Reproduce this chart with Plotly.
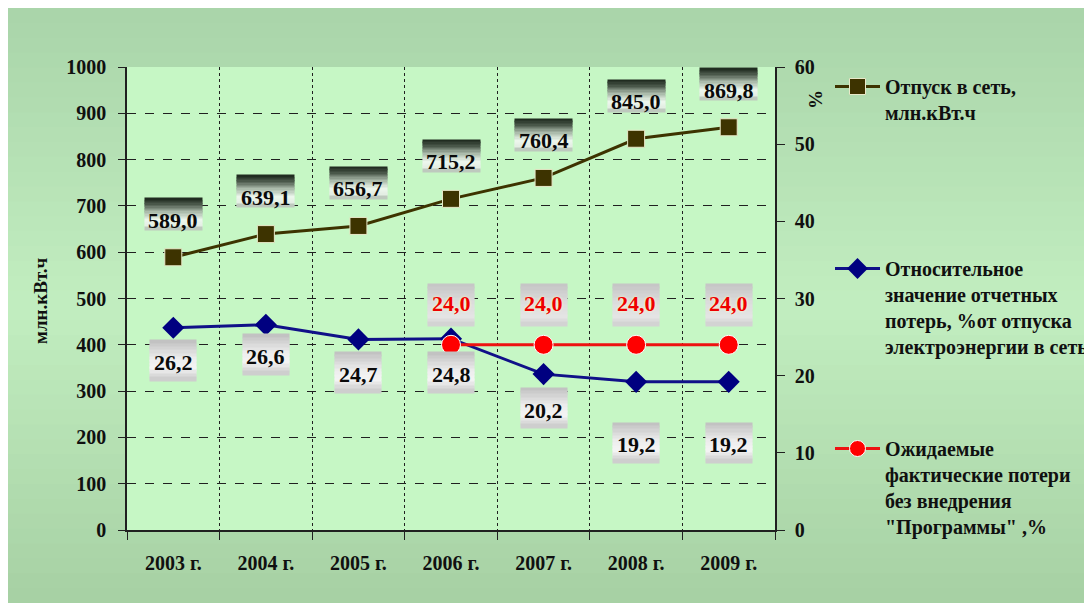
import plotly.graph_objects as go

# ---------------- data ----------------
years = ["2003 г.", "2004 г.", "2005 г.", "2006 г.", "2007 г.", "2008 г.", "2009 г."]
otpusk = [589.0, 639.1, 656.7, 715.2, 760.4, 845.0, 869.8]          # млн.кВт.ч (left axis)
rel_losses = [26.2, 26.6, 24.7, 24.8, 20.2, 19.2, 19.2]              # % (right axis)
expected_losses = [None, None, None, 24.0, 24.0, 24.0, 24.0]         # % (right axis)

name1 = "Отпуск в сеть,<br>млн.кВт.ч"
name2 = "Относительное<br>значение отчетных<br>потерь, %от отпуска<br>электроэнергии в сеть"
name3 = "Ожидаемые<br>фактические потери<br>без внедрения<br>\"Программы\" ,%"

# ---------------- layout geometry (page has an 8px body margin) ----------------
OFF = 8
W, H = 1092 - OFF, 603 - OFF
L, T = 127 - OFF, 67 - OFF
R, B = W - (775 - OFF), H - (530 - OFF)
PW, PH = W - L - R, H - T - B

def px_x(px):
    return (px - OFF - L) / PW

def px_y(py):
    return (H - B - (py - OFF)) / PH

def cx(px):   # container fraction
    return (px - OFF) / W

def cy(py):
    return 1 - (py - OFF) / H

FONT = "Liberation Serif"

fig = go.Figure()

fig.add_trace(go.Scatter(
    x=years, y=otpusk, name=name1, mode="lines+markers",
    line=dict(color="#3d3300", width=3),
    marker=dict(symbol="square", size=17, color="#3d3300", line=dict(color="#e8e8c8", width=1)),
    legend="legend", yaxis="y"))

fig.add_trace(go.Scatter(
    x=years, y=rel_losses, name=name2, mode="lines+markers",
    line=dict(color="#101088", width=3),
    marker=dict(symbol="diamond", size=17, color="#000080"),
    legend="legend2", yaxis="y2"))

fig.add_trace(go.Scatter(
    x=years, y=expected_losses, name=name3, mode="lines+markers",
    line=dict(color="#ee1111", width=3),
    marker=dict(symbol="circle", size=19, color="#ff0000", line=dict(color="#ffffff", width=1)),
    legend="legend3", yaxis="y2"))

def fmt(v):
    return f"{v:.1f}".replace(".", ",")

def lerp(c1, c2, t):
    return tuple(round(a + (b - a) * t) for a, b in zip(c1, c2))

def grad(stops, t):
    for (p0, c0), (p1, c1) in zip(stops[:-1], stops[1:]):
        if p0 <= t <= p1:
            return lerp(c0, c1, (t - p0) / (p1 - p0) if p1 > p0 else 0)
    return stops[-1][1]

ann = []

def gradient_box(x, y, yref, center_shift, h, w, stops, n=12):
    top = center_shift + h / 2
    bh = h / n
    for i in range(n):
        c = grad(stops, (i + 0.5) / n)
        ann.append(dict(x=x, y=y, xref="x", yref=yref, text=" ", showarrow=False,
                        yshift=top - bh * (i + 0.5), width=w, height=bh + 0.6, borderpad=0,
                        bgcolor="rgb(%d,%d,%d)" % c, font=dict(size=1)))

dark_stops = [(0, (22, 34, 22)), (0.2, (70, 84, 70)), (0.45, (170, 186, 170)),
              (0.7, (236, 246, 236)), (0.92, (226, 236, 226)), (1, (150, 162, 150))]
grey_stops = [(0, (190, 190, 190)), (0.45, (236, 236, 236)), (0.7, (244, 244, 244)),
              (1, (200, 200, 200))]
red_stops = [(0, (196, 196, 196)), (0.5, (222, 222, 222)), (0.8, (228, 228, 228)),
             (1, (206, 206, 206))]

# dark-gradient label boxes for series 1 (above points)
for x, v in zip(years, otpusk):
    gradient_box(x, v, "y", 43, 32, 57, dark_stops)
    ann.append(dict(x=x, y=v, xref="x", yref="y", text=f"<b>{fmt(v)}</b>", showarrow=False,
                    yshift=37, font=dict(family=FONT, size=22, color="#0a0a0a")))

# grey label boxes for series 2 (below points)
blue_shift = [-35, -32, -35, -36, -36, -63, -63]
for x, v, s in zip(years, rel_losses, blue_shift):
    gradient_box(x, v, "y2", s + 2, 40, 46, grey_stops)
    ann.append(dict(x=x, y=v, xref="x", yref="y2", text=f"<b>{fmt(v)}</b>", showarrow=False,
                    yshift=s, font=dict(family=FONT, size=22, color="#0a0a0a")))

# red labels for series 3 (above points)
for x, v in zip(years, expected_losses):
    if v is None:
        continue
    gradient_box(x, v, "y2", 40, 42, 46, red_stops)
    ann.append(dict(x=x, y=v, xref="x", yref="y2", text=f"<b>{fmt(v)}</b>", showarrow=False,
                    yshift=41, font=dict(family=FONT, size=22, color="#ee0000",
                                         shadow="0px 0px 3px #ffffc0")))

# axis titles
ann.append(dict(x=px_x(40), y=px_y(300), xref="paper", yref="paper", text="<b>млн.кВт.ч</b>",
                showarrow=False, textangle=-90, xanchor="center", yanchor="middle",
                font=dict(family=FONT, size=19, color="#101010")))
ann.append(dict(x=px_x(816), y=px_y(100), xref="paper", yref="paper", text="<b>%</b>",
                showarrow=False, textangle=-90, xanchor="center", yanchor="middle",
                font=dict(family=FONT, size=19, color="#101010")))

# background gradient bands
shapes = []
top_c, mid_c, bot_c = (169, 212, 169), (194, 238, 192), (166, 208, 163)
n = 40
for i in range(n):
    p0 = OFF + H * i / n
    p1 = OFF + H * (i + 1) / n + 1
    t = (i + 0.5) / n
    c = lerp(top_c, mid_c, t / 0.5) if t < 0.5 else lerp(mid_c, bot_c, (t - 0.5) / 0.5)
    shapes.append(dict(type="rect", xref="paper", yref="paper",
                       x0=-1, x1=3, y0=px_y(p1), y1=px_y(p0),
                       fillcolor=f"rgb{c}", line=dict(width=0), layer="below"))
shapes.append(dict(type="rect", xref="paper", yref="paper", x0=0, x1=1, y0=0, y1=1,
                   fillcolor="#c6f7c5", line=dict(width=0), layer="below"))

tick_font = dict(family=FONT, size=20, color="#101010", weight="bold")
legend_font = dict(family=FONT, size=20, color="#101010", weight="bold")

leg_common = dict(xanchor="left", yanchor="top", xref="container", yref="container",
                  bgcolor="rgba(0,0,0,0)", font=legend_font, valign="top", itemwidth=45)

fig.update_layout(
    width=W, height=H,
    margin=dict(l=L, r=R, t=T, b=B, pad=0, autoexpand=False),
    paper_bgcolor="#b6e0b5", plot_bgcolor="#c6f7c5",
    font=dict(family=FONT),
    annotations=ann, shapes=shapes,
    showlegend=True,
    xaxis=dict(type="category", tickson="boundaries", showgrid=True, griddash="dot",
               gridcolor="#202020", gridwidth=1, ticks="outside", ticklen=8,
               tickcolor="#202020", showline=True, linecolor="#202020", linewidth=1.5,
               tickfont=tick_font, range=[-0.5, 6.5], zeroline=False, ticklabelstandoff=14),
    yaxis=dict(range=[0, 1000], dtick=100, showgrid=True, griddash="dash", gridcolor="#202020",
               gridwidth=1, ticks="outside", ticklen=7, tickcolor="#202020", showline=True,
               linecolor="#202020", linewidth=1.5, tickfont=tick_font, zeroline=False,
               ticklabelstandoff=8),
    yaxis2=dict(range=[0, 60], dtick=10, overlaying="y", side="right", showgrid=False,
                ticks="outside", ticklen=8, tickcolor="#202020", showline=True,
                linecolor="#202020", linewidth=1.5, tickfont=tick_font, zeroline=False,
                ticklabelstandoff=6),
    legend=dict(x=cx(830), y=cy(67), **leg_common),
    legend2=dict(x=cx(830), y=cy(249), **leg_common),
    legend3=dict(x=cx(830), y=cy(429), **leg_common),
)

fig.write_html(
    "out.html",
    config={"displayModeBar": False},
    post_script="document.body.style.overflow='hidden';"
                "document.documentElement.style.overflow='hidden';",
)
